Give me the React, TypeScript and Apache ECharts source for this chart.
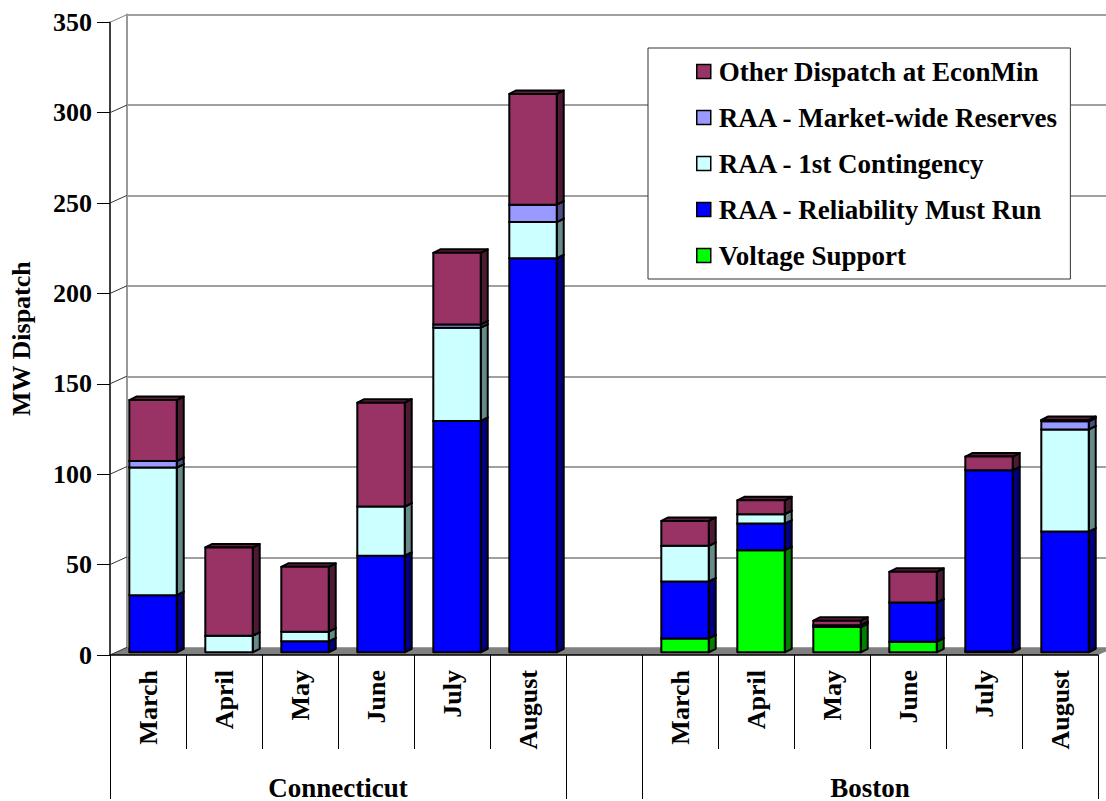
import React, { useEffect, useRef } from "react";
import * as echarts from "echarts";

// Categories: two regions, six months each, with an empty slot between them
const months = ["March", "April", "May", "June", "July", "August"];
const groups = ["Connecticut", "Boston"];
const categories = [...months, "", ...months];

// MW dispatch by component (Connecticut months, gap, Boston months)
const voltageSupport = [0, 0, 0, 0, 0, 0, 0, 7.7, 56.5, 14, 5.9, 0.5, 0];
const reliabilityMustRun = [31.6, 0, 6.1, 53.4, 128, 218, 0, 31.5, 14.7, 1, 21.7, 100.2, 66.8];
const firstContingency = [70.6, 9.2, 5.3, 27.2, 51.6, 20, 0, 19.7, 5.2, 0, 0, 0, 56.5];
const marketWideReserves = [3.6, 0, 0, 0, 1.8, 9.6, 0, 0, 0, 0, 0, 0, 4.5];
const otherDispatch = [33.7, 48.8, 35.9, 57.5, 39.6, 61.3, 0, 13.8, 7.7, 2.5, 16.9, 7.6, 0.7];

// Value axis ticks
const yTicks = [0, 50, 100, 150, 200, 250, 300, 350];

const FONT = "'Liberation Serif', 'Times New Roman', Times, serif";

// Pseudo-3D offsets: floor/back wall depth, and bar depth
const WALL_DX = 17;
const WALL_DY = -7.7;
const BAR_DX = 7;
const BAR_DY = -3.5;
const BAR_LIFT = -2.7; // bars sit slightly behind the front plane

const layers = [
  { name: "Voltage Support", values: voltageSupport, color: "#00FF00", side: "#008000", top: "#00A000" },
  { name: "RAA - Reliability Must Run", values: reliabilityMustRun, color: "#0000FF", side: "#000080", top: "#0000A0" },
  { name: "RAA - 1st Contingency", values: firstContingency, color: "#CCFFFF", side: "#668A8A", top: "#99BFBF" },
  { name: "RAA - Market-wide Reserves", values: marketWideReserves, color: "#9999FF", side: "#4D4D85", top: "#7373BF" },
  { name: "Other Dispatch at EconMin", values: otherDispatch, color: "#993366", side: "#4D1A33", top: "#5E1F3F" },
];

// Boundaries and centres of the two region groups on a 0..N scale
const groupBounds = [0, months.length, months.length + 1, categories.length];
const groupCenters = [months.length / 2, months.length + 1 + months.length / 2];

function buildOption() {
  const bases = categories.map(() => 0);
  const barSeries = layers.map((layer) => {
    const data = categories.map((_, i) => {
      const item = [i, bases[i], layer.values[i]];
      bases[i] += layer.values[i];
      return item;
    });
    return {
      type: "custom",
      name: layer.name,
      xAxisIndex: 0,
      yAxisIndex: 0,
      z: 3,
      itemStyle: { color: layer.color, borderColor: "#000", borderWidth: 1 },
      encode: { x: 0, y: 2 },
      data,
      renderItem: (params: any, api: any) => {
        const idx = api.value(0);
        const base = api.value(1);
        const val = api.value(2);
        if (!(val > 0)) return null;
        const p0 = api.coord([idx, base]);
        const p1 = api.coord([idx, base + val]);
        const band = api.size([1, 0])[0];
        const w = band * 0.624;
        const cx = p0[0] + band * 0.066;
        const L = cx - w / 2;
        const R = cx + w / 2;
        const yb = p0[1] + BAR_LIFT;
        const yt = p1[1] + BAR_LIFT;
        const stroke = { stroke: "#000", lineWidth: 2, lineJoin: "round" };
        return {
          type: "group",
          children: [
            {
              type: "polygon",
              shape: { points: [[R, yb], [R + BAR_DX, yb + BAR_DY], [R + BAR_DX, yt + BAR_DY], [R, yt]] },
              style: { fill: layer.side, ...stroke },
            },
            {
              type: "polygon",
              shape: { points: [[L, yt], [L + BAR_DX, yt + BAR_DY], [R + BAR_DX, yt + BAR_DY], [R, yt]] },
              style: { fill: layer.top, ...stroke },
            },
            {
              type: "rect",
              shape: { x: L, y: yt, width: w, height: yb - yt },
              style: { fill: layer.color, ...stroke },
            },
          ],
        };
      },
    };
  });

  // Floor and the side-wall lines joining front ticks to back-wall gridlines
  const frameSeries = {
    type: "custom",
    name: "frame",
    xAxisIndex: 0,
    yAxisIndex: 0,
    z: 1,
    silent: true,
    encode: { x: 0, y: 1 },
    data: yTicks.map((v) => [0, v]),
    renderItem: (params: any, api: any) => {
      const v = api.value(1);
      const cs = params.coordSys;
      const y = api.coord([0, v])[1];
      const children: any[] = [];
      if (v === 0) {
        children.push({
          type: "polygon",
          shape: {
            points: [
              [cs.x, y],
              [cs.x + cs.width, y],
              [cs.x + cs.width + WALL_DX, y + WALL_DY],
              [cs.x + WALL_DX, y + WALL_DY],
            ],
          },
          style: { fill: "#808080" },
        });
      }
      children.push({
        type: "line",
        shape: { x1: cs.x, y1: y, x2: cs.x + WALL_DX, y2: y + WALL_DY },
        style: { stroke: v === yTicks[yTicks.length - 1] ? "#808080" : "#333", lineWidth: 1 },
      });
      return { type: "group", children };
    },
  };

  const boldText = { fontFamily: FONT, fontWeight: "bold", color: "#000", fontSize: 26 };

  return {
    animation: false,
    backgroundColor: "#fff",
    textStyle: { fontFamily: FONT },
    grid: [
      { left: 110, top: 22.3, right: 8, bottom: 145 },
      { left: 110 + WALL_DX, top: 22.3 + WALL_DY, right: 8 - WALL_DX, bottom: 145 - WALL_DY },
    ],
    legend: {
      data: layers.map((l) => l.name).reverse(),
      orient: "vertical",
      left: 648,
      top: 48,
      padding: [10, 12, 10, 48],
      itemGap: 19,
      itemWidth: 14,
      itemHeight: 14,
      icon: "rect",
      backgroundColor: "#fff",
      borderColor: "#333",
      borderWidth: 1,
      itemStyle: { borderColor: "#000", borderWidth: 1.5 },
      textStyle: { ...boldText, fontSize: 27, padding: [0, 0, 0, 3] },
      selectedMode: false,
    },
    xAxis: [
      {
        type: "category",
        gridIndex: 0,
        data: categories,
        position: "bottom",
        z: 5,
        axisLine: { show: true, lineStyle: { color: "#000", width: 1.5 } },
        axisTick: { show: true, interval: 0, length: 94, lineStyle: { color: "#000", width: 1 } },
        axisLabel: { ...boldText, interval: 0, rotate: 90, margin: 15 },
        splitLine: { show: false },
      },
      {
        type: "value",
        gridIndex: 0,
        min: 0,
        max: categories.length,
        position: "bottom",
        z: 5,
        axisLine: { show: false },
        axisTick: { show: true, customValues: groupBounds, length: 144, lineStyle: { color: "#000", width: 1 } },
        axisLabel: {
          ...boldText,
          fontSize: 27,
          customValues: groupCenters,
          margin: 119,
          formatter: (v: number) => groups[groupCenters.indexOf(v)] ?? "",
        },
        splitLine: { show: false },
      },
      { type: "category", gridIndex: 1, data: categories, show: false },
    ],
    yAxis: [
      {
        type: "value",
        gridIndex: 0,
        min: 0,
        max: 350,
        interval: 50,
        name: "MW Dispatch",
        nameLocation: "middle",
        nameRotate: 90,
        nameGap: 76,
        nameTextStyle: { ...boldText },
        axisLine: { show: true, lineStyle: { color: "#000", width: 1.5 } },
        axisTick: { show: true, length: 13, lineStyle: { color: "#000", width: 1 } },
        axisLabel: { ...boldText, margin: 18 },
        splitLine: { show: false },
      },
      {
        type: "value",
        gridIndex: 1,
        min: 0,
        max: 350,
        interval: 50,
        axisLine: { show: true, lineStyle: { color: "#999", width: 2 } },
        axisTick: { show: false },
        axisLabel: { show: false },
        splitLine: { show: true, lineStyle: { color: "#808080", width: 1.5 } },
      },
    ],
    series: [frameSeries, ...barSeries],
  };
}

export default function App() {
  const ref = useRef<HTMLDivElement>(null);
  useEffect(() => {
    if (!ref.current) return;
    const chart = echarts.init(ref.current, null, { renderer: "svg" });
    chart.setOption(buildOption() as any);
    return () => chart.dispose();
  }, []);
  return (
    <div
      ref={ref}
      style={{ position: "absolute", left: 0, top: 0, width: 1106, height: 801, background: "#fff" }}
    />
  );
}
